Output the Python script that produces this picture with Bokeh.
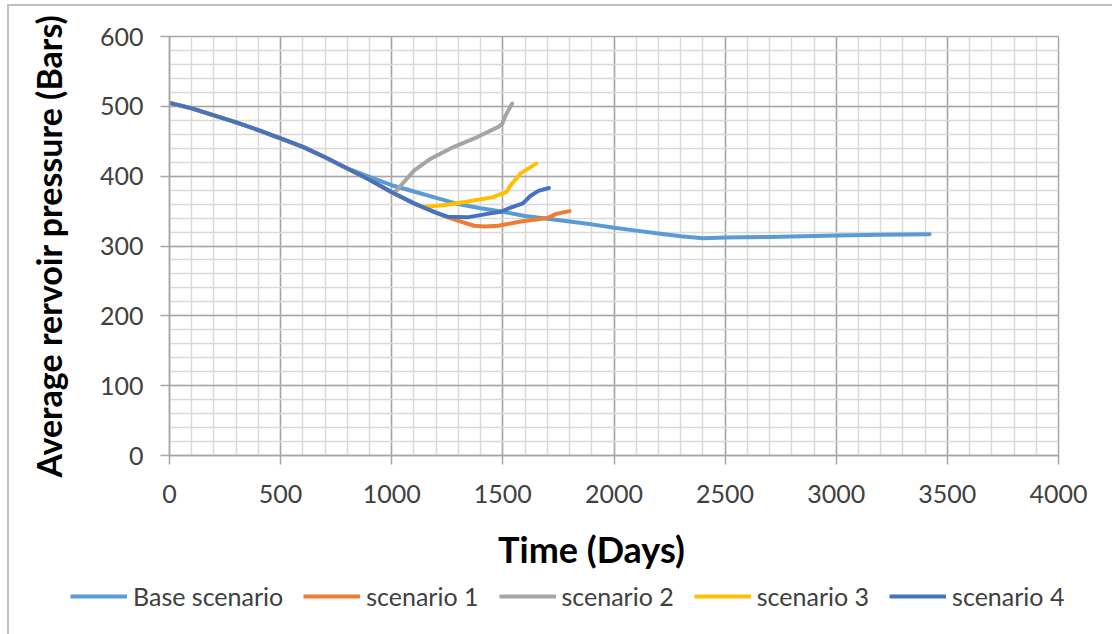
from bokeh.plotting import figure
from bokeh.layouts import row, column
from bokeh.models import Legend, LegendItem, SingleIntervalTicker, Range1d
from bokeh.embed import file_html
from bokeh.resources import INLINE

# ---------------- data ----------------
base_days = [0, 100, 200, 300, 400, 500, 600, 700, 800, 900, 950, 1000, 1100, 1200, 1300,
             1400, 1500, 1600, 1700, 1800, 1900, 2000, 2100, 2200, 2300, 2400, 2500,
             2700, 3000, 3200, 3420]
base_pres = [505, 497, 487, 477, 466, 454, 442, 427, 411, 399, 393, 387, 378, 369, 360,
             354, 349, 343, 339, 335, 331, 326, 322, 318, 314, 311, 312,
             313, 315, 316, 317]

shared_days = [0, 100, 200, 300, 400, 500, 600, 700, 800, 900, 950, 1000]
shared_pres = [505, 497, 487, 477, 466, 454, 442, 427, 411, 395, 386, 377]

s1_days = shared_days + [1100, 1190, 1235, 1300, 1370, 1420, 1480, 1580, 1700, 1740, 1800]
s1_pres = shared_pres + [361, 349, 343, 336, 329, 328, 329, 335, 340, 346, 350]

s2_days = shared_days + [1017, 1100, 1175, 1280, 1385, 1482, 1497, 1512, 1542]
s2_pres = shared_pres + [378, 408, 425, 442, 456, 471, 475, 487, 504]

s3_days = shared_days + [1100, 1145, 1250, 1350, 1455, 1515, 1535, 1580, 1650]
s3_pres = shared_pres + [361, 356, 359, 364, 370, 377, 387, 404, 418]

s4_days = shared_days + [1100, 1190, 1250, 1340, 1430, 1490, 1535, 1590, 1625, 1660, 1707]
s4_pres = shared_pres + [361, 349, 342, 341, 346, 349, 355, 361, 372, 379, 383]

series_names = ["Base scenario", "scenario 1", "scenario 2", "scenario 3", "scenario 4"]
series_colors = ["#5B9BD5", "#ED7D31", "#A5A5A5", "#FFC000", "#4472C4"]

x_title = "Time (Days)"
y_title = "Average rervoir pressure (Bars)"

FONT = "Lato"
W = 1103          # canvas width (page is 1112, minus border/margin)
H1 = 575          # height of the plot row
H2 = 53           # height of the legend strip

# ---------------- main figure ----------------
p = figure(width=W, height=H1, output_backend="svg", toolbar_location=None,
           x_range=Range1d(0, 4000), y_range=Range1d(0, 600),
           min_border_left=160, min_border_right=54, min_border_top=30,
           min_border_bottom=H1 + 6 - 455)
p.outline_line_color = "#A6A6A6"
p.outline_line_width = 1.5

p.xaxis.ticker = SingleIntervalTicker(interval=500, num_minor_ticks=5)
p.yaxis.ticker = SingleIntervalTicker(interval=100, num_minor_ticks=5)

for g in (p.xgrid, p.ygrid):
    g.grid_line_color = "#A6A6A6"
    g.grid_line_width = 1.5
    g.minor_grid_line_color = "#D9D9D9"
    g.minor_grid_line_width = 1.5

for ax in (p.xaxis, p.yaxis):
    ax.axis_line_color = "#A6A6A6"
    ax.axis_line_width = 1.5
    ax.major_tick_line_color = "#A6A6A6"
    ax.major_tick_line_width = 1.5
    ax.major_tick_out = 9
    ax.major_tick_in = 0
    ax.minor_tick_out = 0
    ax.minor_tick_in = 0
    ax.major_label_text_font = FONT
    ax.major_label_text_font_size = "25px"
    ax.major_label_text_color = "#404040"
    ax.axis_label_text_font = FONT
    ax.axis_label_text_font_style = "bold"
    ax.axis_label_text_color = "#000000"

p.xaxis.major_label_standoff = 20
p.yaxis.major_label_standoff = 17

# em/en spaces (not collapsed) shift the centred title like in the reference
p.xaxis.axis_label = x_title + "\u2003\u2002"
p.xaxis.axis_label_text_font_size = "36px"
p.xaxis.axis_label_standoff = 21

p.yaxis.axis_label = y_title
p.yaxis.axis_label_text_font_size = "34px"
p.yaxis.axis_label_standoff = 28

all_days = [base_days, s1_days, s2_days, s3_days, s4_days]
all_pres = [base_pres, s1_pres, s2_pres, s3_pres, s4_pres]
for col, d, pr in zip(series_colors, all_days, all_pres):
    p.line(d, pr, line_color=col, line_width=4, line_join="round", line_cap="round")

# ---------------- legend strip ----------------
lf = figure(width=W, height=H2, output_backend="svg", toolbar_location=None,
            x_range=Range1d(0, 1), y_range=Range1d(0, 1),
            min_border_left=0, min_border_right=0, min_border_top=0, min_border_bottom=0)
lf.axis.visible = False
lf.grid.visible = False
lf.outline_line_color = None
items = []
for name, col in zip(series_names, series_colors):
    # lines lie outside the strip's visible range; only their legend swatches show
    r = lf.line([0, 1], [-5, -5], line_color=col, line_width=4)
    items.append(LegendItem(label=name, renderers=[r]))

legend = Legend(items=items, orientation="horizontal", location=(61, 23),
                label_text_font=FONT, label_text_font_size="25px", label_text_color="#404040",
                glyph_width=57, glyph_height=24, label_standoff=6, spacing=20,
                padding=0, margin=0, border_line_color=None, background_fill_alpha=0)
lf.add_layout(legend, "center")

layout = column(row(p, spacing=0), lf, spacing=0,
                styles={"border-left": "2px solid #BFBFBF", "border-top": "2px solid #BFBFBF",
                        "margin-left": "7px", "margin-top": "4px"})

open("out.html", "w").write(file_html(layout, INLINE))
